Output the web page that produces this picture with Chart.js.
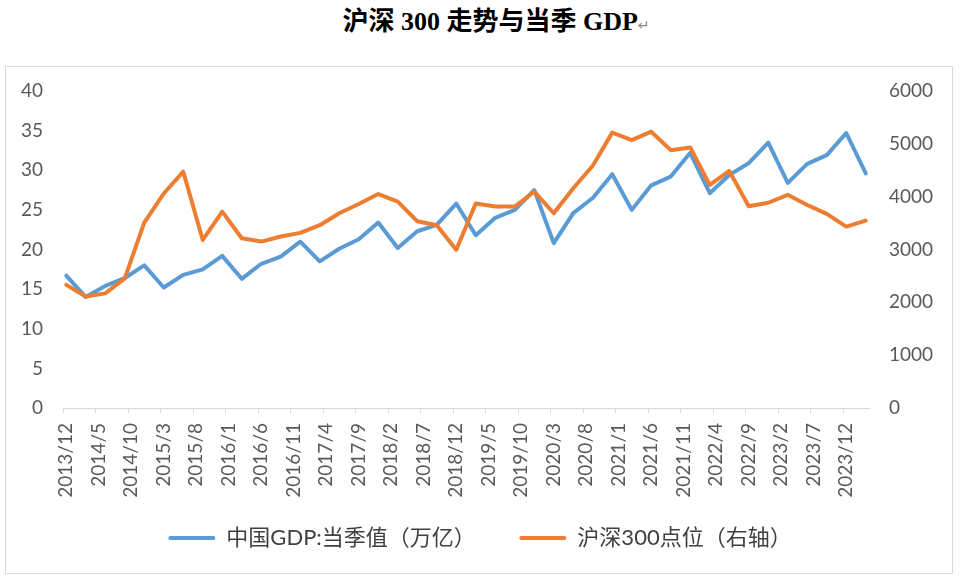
<!DOCTYPE html>
<html>
<head>
<meta charset="utf-8">
<script src="https://cdn.jsdelivr.net/npm/chart.js@4"></script>
<style>
  html, body { margin: 0; padding: 0; background: #fff; }
  body { width: 960px; height: 579px; position: relative; overflow: hidden; }
  #title { position: absolute; left: 16px; top: 0; width: 960px; height: 46px; line-height: 46px; text-align: center;
    font: bold 26px "Liberation Serif", "Noto Sans CJK SC", serif; color: #000; }
  #title .pm { font: normal 14px "DejaVu Sans"; color: #888; }
  #frame { position: absolute; left: 5px; top: 66px; width: 948px; height: 508px; border: 1px solid #d6d9de; box-sizing: border-box; }
  #wrap { position: absolute; left: 0; top: 66px; width: 960px; height: 513px; }
</style>
</head>
<body>
<div id="title">沪深 300 走势与当季 GDP<span class="pm">↵</span></div>
<div id="frame"></div>
<div id="wrap"><canvas id="c" width="960" height="513"></canvas></div>
<script>
// monthly axis 2013/12 .. 2024/3, one data point per quarter
var months = [];
for (var i = 0, y = 2013, m = 12; i < 124; i++) {
  months.push(y + '/' + m);
  m++;
  if (m > 12) { m = 1; y++; }
}
var quarters = months.filter(function (q, i) { return i % 3 === 0; });

// 中国GDP当季值（万亿）
var gdp = [16.7, 14.0, 15.4, 16.4, 18.0, 15.2, 16.8, 17.5, 19.2, 16.3,
  18.2, 19.1, 21.0, 18.5, 20.1, 21.3, 23.4, 20.2, 22.3, 23.1,
  25.8, 21.8, 24.0, 25.0, 27.5, 20.8, 24.6, 26.5, 29.5, 25.0,
  28.1, 29.2, 32.2, 27.1, 29.4, 30.9, 33.5, 28.4, 30.8, 31.9,
  34.7, 29.6];

// 沪深300 quarter-end close
var csi300 = [2330, 2110, 2170, 2455, 3510, 4060, 4473, 3180, 3716, 3212,
  3150, 3245, 3315, 3460, 3685, 3860, 4050, 3905, 3535, 3460,
  2995, 3872, 3815, 3812, 4095, 3686, 4160, 4585, 5212, 5070,
  5230, 4880, 4930, 4222, 4486, 3820, 3885, 4035, 3843, 3675,
  3432, 3545];

function toPoints(values) {
  return quarters.map(function (q, i) { return { x: q, y: values[i] }; });
}

function generateLabels(chart) {
  var items = Chart.defaults.plugins.legend.labels.generateLabels(chart);
  items.sort(function (a, b) { return a.datasetIndex - b.datasetIndex; });
  return items.map(function (it) {
    var ds = chart.data.datasets[it.datasetIndex];
    it.fillStyle = ds.borderColor;
    it.lineWidth = 0;
    it.borderRadius = 2;
    // a little extra room after the first item, like the original legend
    if (it.datasetIndex === 0) it.text = it.text + '\u2003';
    return it;
  });
}

// keep the plot top where the original has it (tick padding would push it down)
function fitY(width) {
  return function (s) {
    s.width = width;
    s.paddingTop = 0;
  };
}

var tickColor = '#595959';
var tickFont = { family: 'Lato, "Noto Sans CJK SC"', size: 19 };

new Chart(document.getElementById('c'), {
  type: 'line',
  data: {
    labels: months,
    datasets: [
      {
        label: '中国GDP:当季值（万亿）',
        data: toPoints(gdp),
        borderColor: '#5B9BD5',
        backgroundColor: '#5B9BD5',
        borderWidth: 4,
        pointRadius: 0,
        borderJoinStyle: 'round',
        borderCapStyle: 'round',
        yAxisID: 'y',
        order: 2
      },
      {
        label: '沪深300点位（右轴）',
        data: toPoints(csi300),
        borderColor: '#ED7D31',
        backgroundColor: '#ED7D31',
        borderWidth: 4,
        pointRadius: 0,
        borderJoinStyle: 'round',
        borderCapStyle: 'round',
        yAxisID: 'y1',
        order: 1
      }
    ]
  },
  options: {
    responsive: false,
    animation: false,
    devicePixelRatio: 1,
    layout: { padding: { top: 25, bottom: 20, left: 0, right: 0 } },
    plugins: {
      tooltip: { enabled: false },
      legend: {
        position: 'bottom',
        labels: {
          generateLabels: generateLabels,
          boxWidth: 47,
          boxHeight: 4,
          padding: 27,
          useBorderRadius: true,
          borderRadius: 2,
          color: '#404040',
          font: { family: 'Lato, "Noto Sans CJK SC"', size: 22 }
        }
      }
    },
    scales: {
      x: {
        type: 'category',
        offset: true,
        border: { display: true, color: '#d9d9d9', width: 1 },
        grid: {
          offset: true,
          drawOnChartArea: false,
          drawTicks: true,
          tickLength: 5,
          color: function (ctx) {
            return ctx.index !== undefined && ctx.index % 5 === 0 && ctx.index < 124 ? '#d9d9d9' : 'rgba(0,0,0,0)';
          }
        },
        ticks: {
          autoSkip: false,
          minRotation: 90,
          maxRotation: 90,
          padding: 10,
          color: tickColor,
          font: { family: 'Lato', size: 19 },
          callback: function (val, idx) {
            return idx % 5 === 0 ? this.getLabelForValue(val) : '';
          }
        },
        afterFit: function (s) { s.height = 92; }
      },
      y: {
        position: 'left',
        min: 0,
        max: 40,
        border: { display: false },
        grid: { display: false, drawTicks: false },
        ticks: { stepSize: 5, padding: 20, color: tickColor, font: tickFont },
        afterFit: fitY(63)
      },
      y1: {
        position: 'right',
        min: 0,
        max: 6000,
        border: { display: false },
        grid: { display: false, drawTicks: false },
        ticks: {
          stepSize: 1000, padding: 20, color: tickColor, font: tickFont,
          callback: function (v) { return String(v); }
        },
        afterFit: fitY(91)
      }
    }
  }
});
</script>
</body>
</html>
